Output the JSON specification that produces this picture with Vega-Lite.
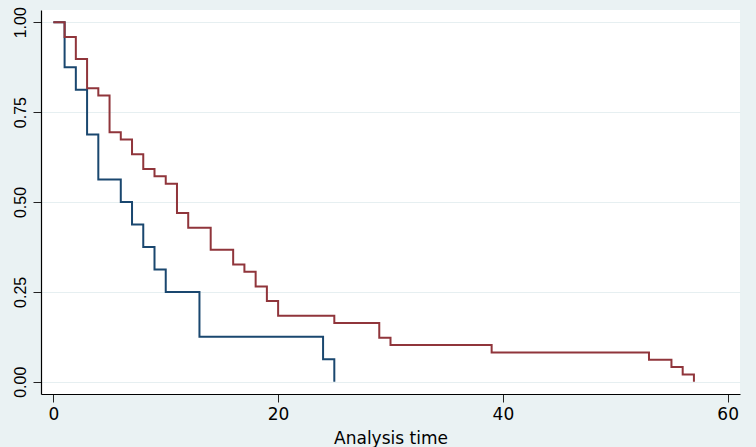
{
  "$schema": "https://vega.github.io/schema/vega-lite/v6.json",
  "width": 699,
  "height": 384,
  "autosize": {"type": "none"},
  "padding": {"left": 41, "top": 10, "right": 16, "bottom": 53},
  "background": "#EAF2F3",
  "datasets": {
    "group1": [
      {"time": 0, "survival": 1.0},
      {"time": 1, "survival": 0.875},
      {"time": 2, "survival": 0.8125},
      {"time": 3, "survival": 0.6875},
      {"time": 4, "survival": 0.5625},
      {"time": 6, "survival": 0.5},
      {"time": 7, "survival": 0.4375},
      {"time": 8, "survival": 0.375},
      {"time": 9, "survival": 0.3125},
      {"time": 10, "survival": 0.25},
      {"time": 13, "survival": 0.125},
      {"time": 24, "survival": 0.0625},
      {"time": 25, "survival": 0.0}
    ],
    "group2": [
      {"time": 0, "survival": 1.0},
      {"time": 1, "survival": 0.9592},
      {"time": 2, "survival": 0.898},
      {"time": 3, "survival": 0.8163},
      {"time": 4, "survival": 0.7959},
      {"time": 5, "survival": 0.6939},
      {"time": 6, "survival": 0.6735},
      {"time": 7, "survival": 0.6327},
      {"time": 8, "survival": 0.5918},
      {"time": 9, "survival": 0.5714},
      {"time": 10, "survival": 0.551},
      {"time": 11, "survival": 0.4694},
      {"time": 12, "survival": 0.4286},
      {"time": 14, "survival": 0.3673},
      {"time": 16, "survival": 0.3265},
      {"time": 17, "survival": 0.3061},
      {"time": 18, "survival": 0.2653},
      {"time": 19, "survival": 0.2245},
      {"time": 20, "survival": 0.1837},
      {"time": 25, "survival": 0.1633},
      {"time": 29, "survival": 0.1224},
      {"time": 30, "survival": 0.102},
      {"time": 39, "survival": 0.0816},
      {"time": 53, "survival": 0.0612},
      {"time": 55, "survival": 0.0408},
      {"time": 56, "survival": 0.0204},
      {"time": 57, "survival": 0.0}
    ]
  },
  "encoding": {
    "x": {
      "field": "time",
      "type": "quantitative",
      "scale": {"domain": [-1.1, 61.1], "nice": false, "zero": false},
      "axis": {
        "title": "Analysis time",
        "values": [0, 20, 40, 60],
        "grid": false,
        "domainColor": "#000000",
        "domainWidth": 1.2,
        "tickColor": "#222222",
        "tickSize": 8,
        "labelFont": "DejaVu Sans",
        "labelFontSize": 17,
        "labelColor": "#000000",
        "labelPadding": 4,
        "titleFont": "DejaVu Sans",
        "titleFontSize": 17,
        "titleFontWeight": "normal",
        "titleColor": "#000000",
        "titleBaseline": "alphabetic",
        "titleY": 49
      }
    },
    "y": {
      "field": "survival",
      "type": "quantitative",
      "scale": {"domain": [-0.034, 1.034], "nice": false, "zero": false},
      "axis": {
        "title": null,
        "values": [0, 0.25, 0.5, 0.75, 1],
        "format": ".2f",
        "grid": true,
        "gridColor": "#E6EFF1",
        "gridWidth": 1.2,
        "domainColor": "#000000",
        "domainWidth": 1.2,
        "tickColor": "#222222",
        "tickSize": 8,
        "labelFont": "Liberation Sans",
        "labelFontSize": 16,
        "labelColor": "#000000",
        "labelAngle": 270,
        "labelAlign": "center",
        "labelBaseline": "alphabetic",
        "labelPadding": 8
      }
    }
  },
  "layer": [
    {
      "data": {"name": "group1"},
      "mark": {"type": "line", "interpolate": "step-after", "color": "#1A476F", "strokeWidth": 2}
    },
    {
      "data": {"name": "group2"},
      "mark": {"type": "line", "interpolate": "step-after", "color": "#90353B", "strokeWidth": 2}
    }
  ],
  "config": {
    "view": {"fill": "#FFFFFF", "stroke": null}
  }
}
